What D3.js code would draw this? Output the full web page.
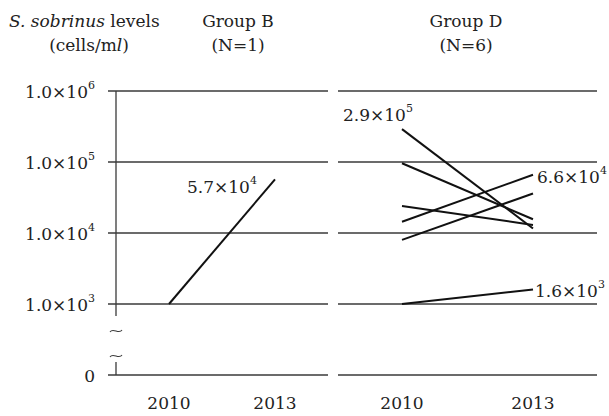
<!DOCTYPE html>
<html>
<head>
<meta charset="utf-8">
<script src="https://cdn.jsdelivr.net/npm/d3@7"></script>
<style>
  body { margin: 0; background: #fff; }
  svg text { font-family: "DejaVu Serif", "Liberation Serif", serif; }
</style>
</head>
<body>
<div id="chart"></div>
<script>
// data
var years = [2010, 2013];
var groupB = [[1.0e3, 5.7e4]];
var groupD = [
  [2.9e5, 1.16e4],
  [9.6e4, 1.56e4],
  [2.4e4, 1.3e4],
  [1.44e4, 6.6e4],
  [8.0e3, 3.6e4],
  [1.0e3, 1.6e3]
];
var yTicks = [1e3, 1e4, 1e5, 1e6];
var yTickExp = [3, 4, 5, 6];
// value labels: mantissa, exponent
var notes = [
  ["5.7", 4],
  ["2.9", 5],
  ["6.6", 4],
  ["1.6", 3]
];

var width = 609, height = 416;
var fs = "17px", fsSup = "11px";

var svg = d3.select("#chart").append("svg")
  .attr("width", width)
  .attr("height", height)
  .attr("fill", "#222");

// log scale; the "0" row sits where 1e2 would be (below the axis break)
var y = d3.scaleLog().domain([1e2, 1e6]).range([375, 91]);
var yZero = y(1e2);

var xB = d3.scaleLinear().domain(years).range([169, 275]);
var xD = d3.scaleLinear().domain(years).range([402, 533]);

var panels = [
  { x: xB, left: 108, right: 328, data: groupB },
  { x: xD, left: 338, right: 597, data: groupD }
];

var grid = "#3a3a3a";

panels.forEach(function(p) {
  // horizontal grid lines
  svg.selectAll(null)
    .data(yTicks)
    .enter().append("line")
    .attr("x1", p.left).attr("x2", p.right)
    .attr("y1", d => y(d)).attr("y2", d => y(d))
    .attr("stroke", grid)
    .attr("stroke-width", 1.3);

  // zero line
  svg.append("line")
    .attr("x1", p.left).attr("x2", p.right)
    .attr("y1", yZero).attr("y2", yZero)
    .attr("stroke", grid)
    .attr("stroke-width", 1.3);

  // year labels
  svg.selectAll(null)
    .data(years)
    .enter().append("text")
    .attr("x", d => p.x(d))
    .attr("y", 409)
    .attr("text-anchor", "middle")
    .style("font-size", fs)
    .text(d => d);

  // subject lines
  svg.selectAll(null)
    .data(p.data)
    .enter().append("line")
    .attr("x1", p.x(years[0])).attr("x2", p.x(years[1]))
    .attr("y1", d => y(d[0])).attr("y2", d => y(d[1]))
    .attr("stroke", "#111")
    .attr("stroke-width", 2);
});

// y axis with break
var axisX = 116;
svg.append("line")
  .attr("x1", axisX).attr("x2", axisX)
  .attr("y1", y(1e6)).attr("y2", y(1e3) + 12)
  .attr("stroke", grid).attr("stroke-width", 1.3);
svg.append("line")
  .attr("x1", axisX).attr("x2", axisX)
  .attr("y1", yZero - 13).attr("y2", yZero)
  .attr("stroke", grid).attr("stroke-width", 1.3);
[y(1e3) + 27, y(1e3) + 52].forEach(function(ty) {
  svg.append("path")
    .attr("d", "M" + (axisX - 6) + "," + (ty + 1) +
      " C" + (axisX - 3) + "," + (ty - 4) + " " + (axisX + 3) + "," + (ty + 4) +
      " " + (axisX + 6) + "," + (ty - 1))
    .attr("fill", "none")
    .attr("stroke", grid)
    .attr("stroke-width", 1.1);
});

// y tick labels
svg.selectAll(null)
  .data(yTicks)
  .enter().append("text")
  .attr("x", 95)
  .attr("y", d => y(d) + 7)
  .attr("text-anchor", "end")
  .style("font-size", fs)
  .each(function(d, i) {
    var t = d3.select(this);
    t.append("tspan").text("1.0×10");
    t.append("tspan").attr("dy", -9).style("font-size", fsSup).text(yTickExp[i]);
  });
svg.append("text")
  .attr("x", 95)
  .attr("y", yZero + 7)
  .attr("text-anchor", "end")
  .style("font-size", fs)
  .text("0");

// value annotations
var notePos = {
  "5.7": [187, 193],
  "2.9": [343, 121],
  "6.6": [537, 183],
  "1.6": [535, 297]
};
notes.forEach(function(n) {
  var pos = notePos[n[0]];
  var t = svg.append("text")
    .attr("x", pos[0])
    .attr("y", pos[1])
    .style("font-size", fs);
  t.append("tspan").text(n[0] + "×10");
  t.append("tspan").attr("dy", -9).style("font-size", fsSup).text(n[1]);
});

// headers
var t1 = svg.append("text").attr("x", 9).attr("y", 27).style("font-size", fs);
t1.append("tspan").style("font-style", "italic").text("S. sobrinus");
t1.append("tspan").text(" levels");
var t2 = svg.append("text").attr("x", 89).attr("y", 51)
  .attr("text-anchor", "middle").style("font-size", fs);
t2.append("tspan").text("(cells/m");
t2.append("tspan").style("font-style", "italic").text("l");
t2.append("tspan").text(")");

svg.append("text").attr("x", 238).attr("y", 27)
  .attr("text-anchor", "middle").style("font-size", fs).text("Group B");
svg.append("text").attr("x", 238).attr("y", 51)
  .attr("text-anchor", "middle").style("font-size", fs).text("(N=1)");
svg.append("text").attr("x", 466).attr("y", 27)
  .attr("text-anchor", "middle").style("font-size", fs).text("Group D");
svg.append("text").attr("x", 466).attr("y", 51)
  .attr("text-anchor", "middle").style("font-size", fs).text("(N=6)");
</script>
</body>
</html>
